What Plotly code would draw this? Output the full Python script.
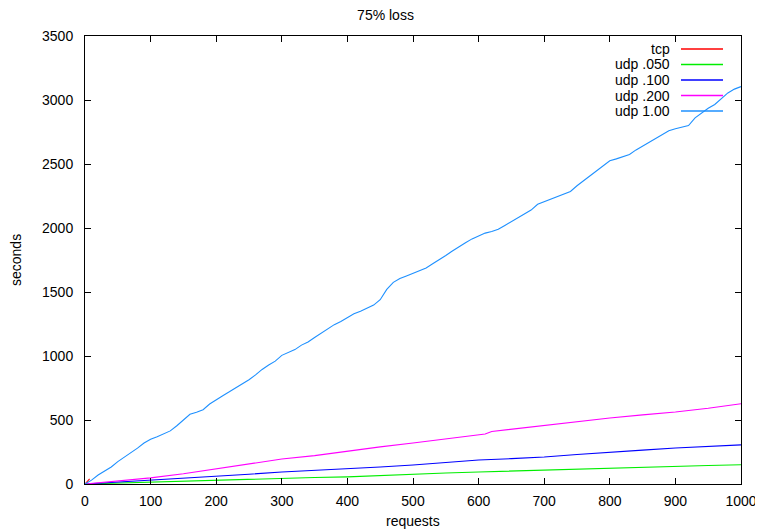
import plotly.graph_objects as go

# ---- data ----
tcp_x = [0, 1, 2, 3, 4, 5, 6, 7]
tcp_y = [0, 5, 10, 16, 22, 28, 34, 40]

udp050_x = [0, 50, 100, 150, 200, 250, 300, 350, 400, 450, 500, 550, 600, 650, 700, 750, 800, 850, 900, 950, 1000]
udp050_y = [0, 8, 15, 24, 31, 40, 47, 51, 56, 67, 78, 86, 94, 102, 109, 117, 125, 133, 141, 145, 150]

udp100_x = [0, 50, 100, 150, 200, 250, 300, 350, 400, 450, 500, 550, 600, 650, 700, 750, 800, 850, 900, 950, 1000]
udp100_y = [0, 15, 32, 45, 57, 76, 94, 106, 118, 133, 148, 167, 187, 198, 211, 231, 250, 265, 281, 293, 306]

udp200_x = [0, 50, 100, 150, 200, 250, 300, 350, 400, 450, 500, 550, 600, 610, 620, 650, 700, 750, 800, 850, 900, 950, 1000]
udp200_y = [0, 22, 48, 80, 117, 155, 195, 222, 258, 290, 320, 352, 385, 390, 410, 428, 461, 490, 516, 540, 563, 592, 627]

udp1_x = list(range(0, 1001, 10))
udp1_y = [0, 30, 70, 100, 133, 175, 210, 240, 280, 320,
          350, 370, 392, 415, 455, 500, 545, 560, 580, 625,
          660, 690, 720, 750, 780, 815, 852, 895, 930, 960,
          1005, 1030, 1050, 1085, 1110, 1145, 1180, 1215, 1245, 1270,
          1300, 1330, 1350, 1375, 1398, 1440, 1520, 1575, 1605, 1625,
          1645, 1665, 1688, 1720, 1750, 1785, 1820, 1855, 1885, 1915,
          1940, 1960, 1972, 1990, 2020, 2050, 2080, 2110, 2140, 2185,
          2205, 2225, 2250, 2265, 2285, 2330, 2370, 2410, 2450, 2490,
          2525, 2540, 2555, 2575, 2610, 2640, 2670, 2700, 2730, 2760,
          2775, 2785, 2800, 2860, 2900, 2935, 2965, 3010, 3055, 3085,
          3105]

series_names = ["tcp", "udp .050", "udp .100", "udp .200", "udp 1.00"]
series_colors = ["#ff0000", "#00ee00", "#0000ff", "#ff00ff", "#1e90ff"]
series_data = [(tcp_x, tcp_y), (udp050_x, udp050_y), (udp100_x, udp100_y),
               (udp200_x, udp200_y), (udp1_x, udp1_y)]

x_ticks = [0, 100, 200, 300, 400, 500, 600, 700, 800, 900, 1000]
y_ticks = [0, 500, 1000, 1500, 2000, 2500, 3000, 3500]

FONT = "Liberation Sans, Arial, Helvetica, sans-serif"
OFF = 8  # the page body margin shifts the figure by 8 px
W, H = 763 - OFF, 531 - OFF
L, R, T, B = 85 - OFF, 741 - OFF, 36 - OFF, 484 - OFF

fig = go.Figure()
for name, color, (xs, ys) in zip(series_names, series_colors, series_data):
    fig.add_trace(go.Scatter(x=xs, y=ys, mode="lines", name=name,
                             line=dict(color=color, width=1.1), showlegend=False))

def px_x(p):  # reference-pixel x -> paper coords
    return (p - OFF - L) / (R - L)
def px_y(p):  # reference-pixel y -> paper coords
    return (B - (p - OFF)) / (B - T)

# gnuplot-style legend: right-aligned text, sample line to the right
row_px = [49, 64.5, 80, 95.5, 111]
for name, color, ry in zip(series_names, series_colors, row_px):
    fig.add_annotation(x=px_x(672), y=px_y(ry), xref="paper", yref="paper",
                       text=name, showarrow=False, xanchor="right", yanchor="middle",
                       font=dict(family=FONT, size=14, color="#000000"))
    fig.add_shape(type="line", xref="paper", yref="paper", layer="above",
                  x0=px_x(681), x1=px_x(723), y0=px_y(ry), y1=px_y(ry),
                  line=dict(color=color, width=1.5))

# axis titles placed where gnuplot puts them
fig.add_annotation(x=0.5, y=px_y(521), xref="paper", yref="paper", text="requests",
                   showarrow=False, xanchor="center", yanchor="middle",
                   font=dict(family=FONT, size=14, color="#000000"))
fig.add_annotation(x=px_x(16), y=px_y(260), xref="paper", yref="paper", text="seconds",
                   showarrow=False, xanchor="center", yanchor="middle", textangle=-90,
                   font=dict(family=FONT, size=14, color="#000000"))

axis_common = dict(showgrid=False, zeroline=False, showline=True, linecolor="#000000",
                   linewidth=1, mirror="ticks", ticks="inside", ticklen=6,
                   tickcolor="#000000", tickwidth=1, automargin=False,
                   tickfont=dict(family=FONT, size=14, color="#000000"))

fig.update_layout(
    width=W, height=H,
    margin=dict(l=L, r=W - R, t=T, b=H - B, autoexpand=False),
    paper_bgcolor="#ffffff", plot_bgcolor="#ffffff",
    title=dict(text="75% loss", x=0.5, xanchor="center", y=1 - (15 - OFF) / H, yanchor="middle",
               font=dict(family=FONT, size=14, color="#000000")),
    xaxis=dict(range=[0, 1000], tickvals=x_ticks, ticktext=[str(v) for v in x_ticks],
               ticklabelstandoff=4, **axis_common),
    yaxis=dict(range=[0, 3500], tickvals=y_ticks, ticktext=[str(v) for v in y_ticks],
               ticklabelstandoff=8, **axis_common),
    showlegend=False,
)

fig.write_html("out.html")
